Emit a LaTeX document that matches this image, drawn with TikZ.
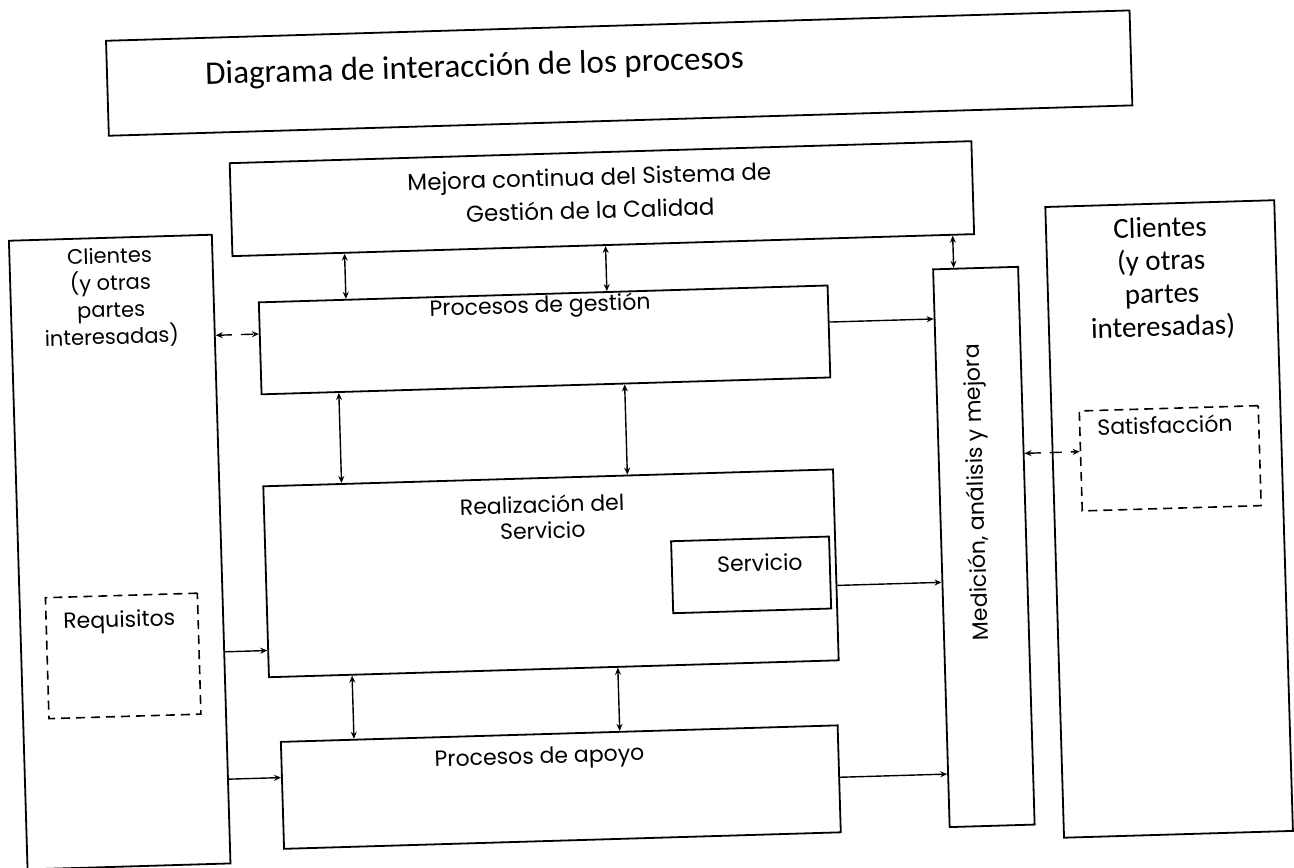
\documentclass[tikz,border=0pt]{standalone}
\usepackage{fontspec}
\setmainfont{Poppins}
\newfontfamily\carl{Carlito}
\usetikzlibrary{arrows.meta,calc}
\begin{document}
\begin{tikzpicture}[x=1pt,y=-1pt,
  box/.style={draw, line width=1.8pt, inner sep=0pt, anchor=north west},
  dbox/.style={draw, line width=1.6pt, dash pattern=on 9pt off 6pt, inner sep=0pt, anchor=north west},
  txt/.style={inner sep=0pt, font=\fontsize{22}{27}\selectfont, align=center},
  dbl/.style={line width=1.4pt, {Stealth[length=7pt,width=6pt]}-{Stealth[length=7pt,width=6pt]}},
  sgl/.style={line width=1.4pt, -{Stealth[length=7pt,width=6pt]}},
  dsh/.style={dash pattern=on 12pt off 9pt}
]
\fill[white] (0,0) rectangle (1294,868);
\useasboundingbox (0,0) rectangle (1294,868);
\begin{scope}[rotate around={1.7:(647,434)}, transform shape]
% boxes
\node[box, minimum width=1024pt, minimum height=95pt] (title) at (117,24) {};
\node[box, minimum width=742pt, minimum height=93pt] (mejora) at (237,150) {};
\node[box, minimum width=203pt, minimum height=629pt] (leftC) at (14,221) {};
\node[dbox, minimum width=152pt, minimum height=121pt] (req) at (40,579) {};
\node[box, minimum width=569pt, minimum height=92pt] (gest) at (262,290) {};
\node[box, minimum width=570pt, minimum height=191pt] (real) at (261,474) {};
\node[box, minimum width=158pt, minimum height=72pt] (serv) at (667,541) {};
\node[box, minimum width=557pt, minimum height=107pt] (apoyo) at (271,730) {};
\node[box, minimum width=85pt, minimum height=558pt] (med) at (937,277) {};
\node[box, minimum width=229pt, minimum height=631pt] (rightC) at (1051,218) {};
\node[dbox, minimum width=179pt, minimum height=100pt] (satis) at (1079,423) {};
% texts
\node[inner sep=0pt, anchor=west, font=\carl\fontsize{33}{38}\selectfont] (tTitle) at (216,63) {Diagrama de interacción de los procesos};
\node[txt, font=\fontsize{23}{33}\selectfont] (tMejora1) at (597,178) {Mejora continua del Sistema de};
\node[txt, font=\fontsize{23}{33}\selectfont] (tMejora2) at (597,208) {Gestión de la Calidad};
\node[txt, font=\fontsize{21}{27}\selectfont] (tLeftC) at (115,282) {Clientes\\(y otras\\partes\\interesadas)};
\node[txt] (tReq) at (114,606) {Requisitos};
\node[txt] (tGest) at (544,304) {Procesos de gestión};
\node[txt, font=\fontsize{22}{26}\selectfont] (tReal) at (540,514) {Realización del\\Servicio};
\node[txt] (tServ) at (756,566) {Servicio};
\node[txt] (tApoyo) at (530,755) {Procesos de apoyo};
\node[txt, rotate=90] (tMed) at (976,502) {Medición, análisis y mejora};
\node[txt, font=\carl\fontsize{29}{33}\selectfont] (tRightC) at (1166,294) {Clientes\\(y otras\\partes\\interesadas)};
\node[txt] (tSatis) at (1165,440) {Satisfacción};
% anchor points on edges
\coordinate (m1) at ($(mejora.south west)!0.152!(mejora.south east)$);
\coordinate (m2) at ($(mejora.south west)!0.503!(mejora.south east)$);
\coordinate (m3) at ($(mejora.south west)!0.970!(mejora.south east)$);
\coordinate (g1) at ($(gest.south west)!0.137!(gest.south east)$);
\coordinate (g2) at ($(gest.south west)!0.638!(gest.south east)$);
\coordinate (r1) at ($(real.south west)!0.147!(real.south east)$);
\coordinate (r2) at ($(real.south west)!0.612!(real.south east)$);
\coordinate (l1) at ($(leftC.north east)!0.161!(leftC.south east)$);
\coordinate (l2) at ($(leftC.north east)!0.663!(leftC.south east)$);
\coordinate (l3) at ($(leftC.north east)!0.865!(leftC.south east)$);
\coordinate (ge) at ($(gest.north east)!0.40!(gest.south east)$);
\coordinate (re) at ($(real.north east)!0.607!(real.south east)$);
\coordinate (ae) at ($(apoyo.north east)!0.486!(apoyo.south east)$);
\coordinate (me) at ($(med.north east)!0.335!(med.south east)$);
% connectors
\draw[dbl] (m1) -- ($(gest.north west)!(m1)!(gest.north east)$);
\draw[dbl] (m2) -- ($(gest.north west)!(m2)!(gest.north east)$);
\draw[dbl] (m3) -- ($(med.north west)!(m3)!(med.north east)$);
\draw[dbl] (g1) -- ($(real.north west)!(g1)!(real.north east)$);
\draw[dbl] (g2) -- ($(real.north west)!(g2)!(real.north east)$);
\draw[dbl] (r1) -- ($(apoyo.north west)!(r1)!(apoyo.north east)$);
\draw[dbl] (r2) -- ($(apoyo.north west)!(r2)!(apoyo.north east)$);
\draw[dbl, dsh] (l1) -- ($(gest.north west)!(l1)!(gest.south west)$);
\draw[sgl] (l2) -- ($(real.north west)!(l2)!(real.south west)$);
\draw[sgl] (l3) -- ($(apoyo.north west)!(l3)!(apoyo.south west)$);
\draw[sgl] (ge) -- ($(med.north west)!(ge)!(med.south west)$);
\draw[sgl] (re) -- ($(med.north west)!(re)!(med.south west)$);
\draw[sgl] (ae) -- ($(med.north west)!(ae)!(med.south west)$);
\draw[dbl, dsh] (me) -- ($(satis.north west)!(me)!(satis.south west)$);
\end{scope}
\end{tikzpicture}
\end{document}
